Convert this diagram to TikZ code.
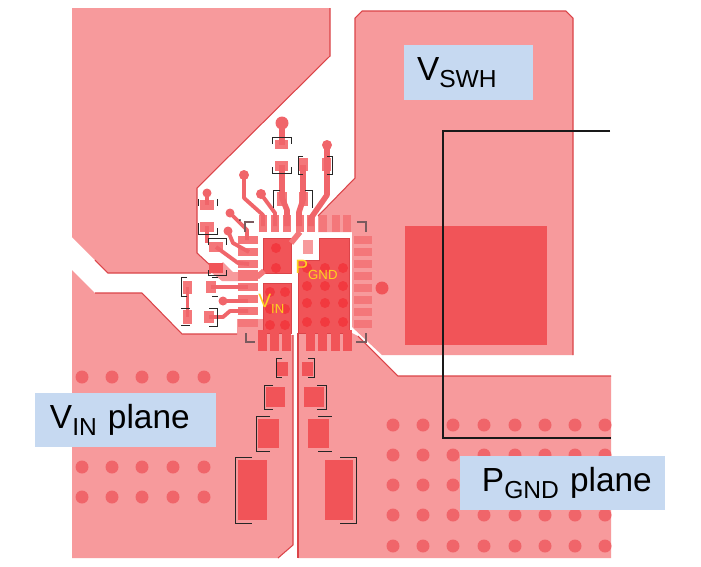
\documentclass[tikz,border=0pt]{standalone}
\usepackage{fontspec}
\setmainfont{Liberation Sans}
\usepackage{xcolor}
\usetikzlibrary{positioning}

\definecolor{planecol}{HTML}{F79A9C}
\definecolor{edgecol}{HTML}{DB4449}
\definecolor{blockcol}{HTML}{F15458}
\definecolor{padcol}{HTML}{F4777A}
\definecolor{tracecol}{HTML}{F0656A}
\definecolor{viacol}{HTML}{F2393F}
\definecolor{labelcol}{HTML}{C6D9F1}
\definecolor{yellowcol}{HTML}{FFD21F}
\definecolor{markcol}{HTML}{7A5A5E}

\newcommand{\lowsub}[3]{\raisebox{-#2em}{\fontsize{#1}{#1}\selectfont #3}}

\tikzset{
    plane/.style={fill=planecol, draw=none},
    planeedge/.style={draw=edgecol, line width=0.6pt},
    copper/.style={fill=blockcol, draw=edgecol, line width=0.5pt},
    bigpad/.style={fill=blockcol, draw=none},
    padbox/.style={fill=padcol, draw=none},
    track/.style={draw=tracecol, line width=3.2pt, line join=round},
    thintrack/.style={draw=tracecol, line width=2.2pt, line join=round},
    silk/.style={draw=black!85, line width=0.55pt},
    cornermark/.style={draw=markcol, line width=0.8pt},
    planelabel/.style={fill=labelcol, inner ysep=0pt, inner xsep=13*0.02cm, align=left, font=\fontsize{19}{21}\selectfont},
    chiplabel/.style={text=yellowcol, inner sep=0pt, font=\fontsize{11}{12}\selectfont}
}

\begin{document}
\begin{tikzpicture}[x=0.02cm, y=-0.02cm]
    \useasboundingbox[fill=white] (0,0) rectangle (701,566);

    % planes
    \fill[plane] (72,8) -- (330,8) -- (330,56) -- (197,188) -- (197,253) -- (211,266) -- (211,273) -- (108,273) -- (72,237) -- cycle;
    \draw[planeedge] (330,8) -- (330,56) -- (197,188) -- (197,253) -- (211,266);
    \draw[planeedge] (211,273) -- (108,273) -- (95,260);
    \fill[plane] (223,262) -- (233,272) -- (238,272) -- (238,281) -- (222,281) -- (212,273) -- cycle;

    \fill[plane] (362,11) -- (566,11) -- (573,18) -- (573,355) -- (382,355) -- (352,327) -- (352,232) -- (318,232) -- (318,216) -- (355,178) -- (355,18) -- cycle;
    \draw[planeedge] (318,216) -- (355,178) -- (355,18) -- (362,11) -- (566,11) -- (573,18) -- (573,355);

    \fill[plane] (72,270) -- (95,293) -- (142,293) -- (182,334) -- (237,334) -- (237,319) -- (263,319) -- (263,283) -- (291,283) -- (291,335) -- (293,335) -- (293,545) -- (278,558) -- (72,558) -- cycle;
    \draw[planeedge] (95,293) -- (142,293) -- (182,334) -- (237,334);
    \draw[planeedge] (293,335) -- (293,545) -- (278,558);

    \fill[plane] (298,333) -- (352,333) -- (358,336) -- (398,376) -- (611,376) -- (611,558) -- (298,558) -- cycle;
    \draw[planeedge] (298,333) -- (298,558);
    \draw[planeedge] (358,336) -- (398,376) -- (611,376);

    % copper blocks under the chip
    \draw[copper] (263,238) rectangle (291,273);
    \draw[copper] (263,283) rectangle (291,333);
    \draw[copper] (298,260) -- (319,260) -- (319,238) -- (349,238) -- (349,333) -- (298,333) -- cycle;
    \fill[plane] (303,240) rectangle (313,254);
    \draw[track, draw=padcol] (300,232) -- (291,243);
    \draw[track, draw=padcol] (257,277) -- (264,271);

    % chip pins
    \foreach \ypin in {236,248,260,270,283,295,307,319} {
        \fill[padbox] (238,\ypin) rectangle (258,\ypin+8);
    }
    \fill[padbox] (238,270) rectangle (258,281);
    \foreach \ypin in {236,248,260,272,284,296,308,320} {
        \fill[padbox] (354,\ypin) rectangle (372,\ypin+8);
    }
    \foreach \xpin in {259,271,283,296,307,319,332,343} {
        \fill[padbox] (\xpin,215) rectangle (\xpin+8,232);
    }
    \foreach \xpin in {258,270,282,306,318,331,343} {
        \fill[bigpad] (\xpin,330) rectangle (\xpin+9,351);
    }

    % pads of the parts
    \foreach \xa/\ya/\xb/\yb in {275/140/288/149, 275/161/288/171, 277/192/287/206, 299/158/308/171, 299/192/308/206, 322/158/331/171, 200/200/214/210, 200/222/214/232, 209/242/223/252, 183/281/192/294, 183/310/192/324, 206/281/216/293, 204/311/214/323} {
        \fill[padbox] (\xa,\ya) rectangle (\xb,\yb);
    }
    \foreach \xa/\ya/\xb/\yb in {209/263/223/273, 277/362/288/376, 302/362/313/376, 266/387/285/407, 304/387/324/407, 258/419/279/448, 308/419/329/448, 238/460/267/520, 325/460/353/520, 405/226/547/345} {
        \fill[bigpad] (\xa,\ya) rectangle (\xb,\yb);
    }
    \fill[bigpad] (382,288) circle (6.5);

    % tracks
    \draw[track] (282,123) -- (282,145);
    \draw[track] (282,165) -- (282,198) -- (287,210) -- (287,226);
    \draw[track] (303,165) -- (303,200) -- (299,212) -- (299,226);
    \draw[track] (327,145) -- (327,195) -- (311,218) -- (311,226);
    \draw[thintrack] (244,175) -- (244,198) -- (263,215) -- (263,226);
    \draw[thintrack] (261,194) -- (275,213) -- (275,226);
    \draw[thintrack] (230,213) -- (247,230) -- (247,240);
    \draw[thintrack] (228,231) -- (233,243) -- (249,252);
    \draw[thintrack] (216,247) -- (238,263) -- (249,264);
    \draw[thintrack] (207,193) -- (207,205);
    \draw[thintrack] (207,226) -- (207,243);
    \draw[thintrack] (187.5,287) -- (187.5,317);
    \draw[thintrack] (211,287) -- (248,287);
    \draw[thintrack] (223,301) -- (248,301);
    \draw[thintrack] (209,317) -- (223,317) -- (230,311) -- (248,311);

    % vias
    \foreach \xv/\yv/\rv in {282/123/6.5, 327/145/5, 244/175/5, 261/194/5, 230/213/4.5, 228/231/4.5, 207/193/4.5, 223/301/4.5} {
        \fill[tracecol] (\xv,\yv) circle (\rv);
    }
    \foreach \xv/\yv in {276/248, 276/268, 270/292, 285/292, 270/309, 285/309, 270/325, 285/325} {
        \fill[viacol] (\xv,\yv) circle (5);
    }
    \foreach \yv in {268,286,303,322} {
        \foreach \xv in {307,325,343} {
            \fill[viacol] (\xv,\yv) circle (5);
        }
    }
    \foreach \yv in {377,467,497} {
        \foreach \xv in {82,112,142,173,204} {
            \fill[tracecol] (\xv,\yv) circle (6.5);
        }
    }
    \foreach \yv in {425,455,485,515,546} {
        \foreach \xv in {393,423,453,484,515,545,575,605} {
            \fill[tracecol] (\xv,\yv) circle (6.5);
        }
    }

    % silk screen
    \draw[silk] (272,144) -- (272,137) -- (291,137) -- (291,144);
    \draw[silk] (272,167) -- (272,173) -- (291,173) -- (291,167);
    \draw[silk] (303,156) -- (298,156) -- (298,174) -- (303,174);
    \draw[silk] (327,156) -- (332,156) -- (332,174) -- (327,174);
    \draw[silk] (280,190) -- (273,190) -- (273,208);
    \draw[silk] (305,190) -- (312,190) -- (312,208);
    \draw[silk] (198,199) -- (198,206);
    \draw[silk] (217,199) -- (217,206);
    \draw[silk] (198,223) -- (198,234) -- (217,234) -- (217,228);
    \draw[silk] (208,245) -- (208,238) -- (226,238) -- (226,245);
    \draw[silk] (208,270) -- (208,275) -- (226,275) -- (226,270);
    \draw[silk] (187,277) -- (181,277) -- (181,296) -- (187,296);
    \draw[silk] (181,308) -- (190,308);
    \draw[silk] (181,325) -- (190,325);
    \draw[silk] (212,277) -- (218,277);
    \draw[silk] (212,296) -- (218,296);
    \draw[silk] (209,308) -- (217,308) -- (217,326) -- (209,326);
    \draw[silk] (282,358) -- (276,358) -- (276,377) -- (282,377);
    \draw[silk] (308,358) -- (314,358) -- (314,377) -- (308,377);
    \draw[silk] (273,385) -- (264,385) -- (264,409) -- (273,409);
    \draw[silk] (317,385) -- (326,385) -- (326,409) -- (317,409);
    \draw[silk] (270,416) -- (256,416) -- (256,451) -- (270,451);
    \draw[silk] (318,416) -- (332,416);
    \draw[silk] (318,451) -- (332,451);
    \draw[silk] (252,457) -- (235,457) -- (235,523) -- (252,523);
    \draw[silk] (340,457) -- (356,457) -- (356,523) -- (340,523);
    \fill[black] (240,220) circle (0.8);

    \draw[cornermark] (245,232) -- (245,222) -- (254,222);
    \draw[cornermark] (357,222) -- (366,222) -- (366,232);
    \draw[cornermark] (246,333) -- (246,342) -- (255,342);
    \draw[cornermark] (356,342) -- (366,342) -- (366,333);

    % outline of the inductor
    \draw[line width=0.6pt, draw=black!90] (610,131) -- (443,131) -- (443,438) -- (611,438);

    % labels
    \node[planelabel, text width=103*0.02cm, minimum height=55*0.02cm] (vswhlabel) at (468.5,72.5) {V\lowsub{14}{0.2}{SWH}};
    \node[planelabel, text width=155*0.02cm, minimum height=54*0.02cm] (vinlabel) at (125.5,420) {\hspace*{0.04cm}V\lowsub{14}{0.2}{IN} plane};
    \node[planelabel, text width=179*0.02cm, minimum height=54*0.02cm] (pgndlabel) at (562.5,483) {\hspace*{0.18cm}P\lowsub{14}{0.2}{GND} plane};
    \node[chiplabel, anchor=west] (pgndchip) at (295,270) {P\lowsub{7.5}{0.3}{GND}};
    \node[chiplabel, anchor=west] (vinchip) at (258,304) {V\lowsub{7.5}{0.3}{IN}};
\end{tikzpicture}
\end{document}
